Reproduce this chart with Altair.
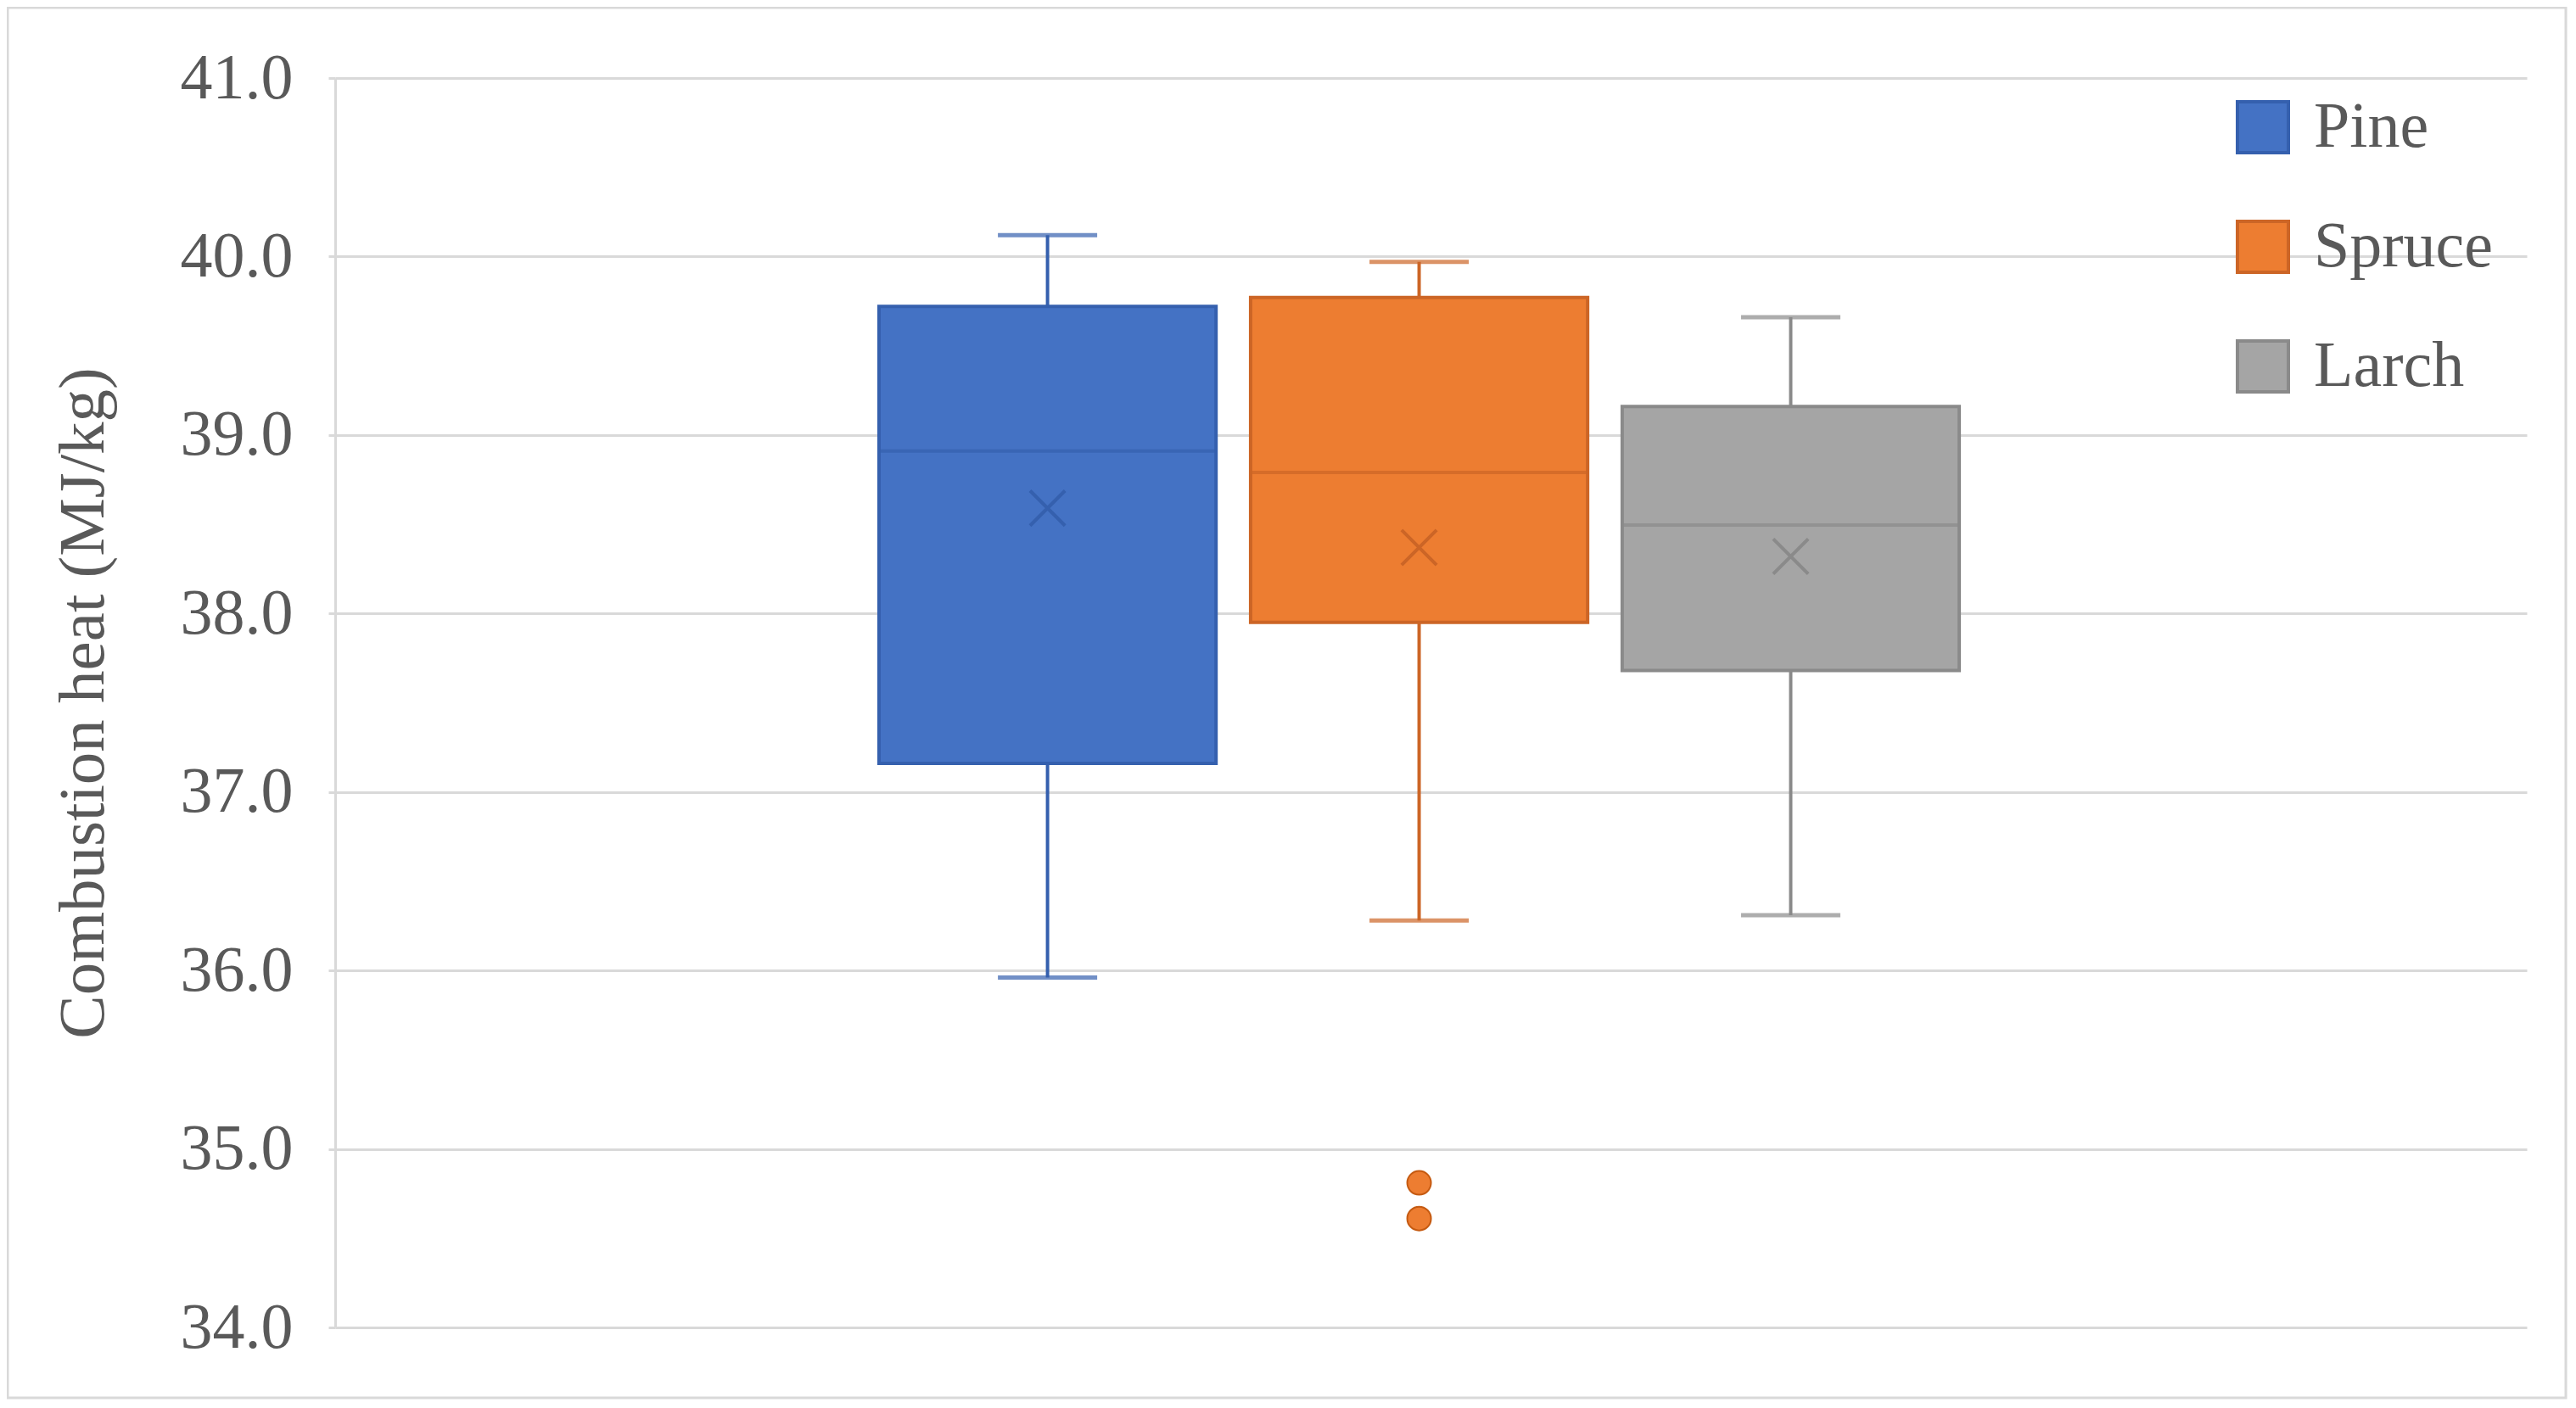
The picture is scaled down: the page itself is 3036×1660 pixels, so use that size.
import altair as alt
import pandas as pd

# ---- data ----
series = ["Pine", "Spruce", "Larch"]
mins = [35.96, 36.28, 36.31]
q1s = [37.16, 37.95, 37.68]
medians = [38.91, 38.79, 38.495]
q3s = [39.72, 39.77, 39.16]
maxs = [40.12, 39.97, 39.66]
means = [38.59, 38.37, 38.32]
outlier_series = ["Spruce", "Spruce"]
outlier_values = [34.81, 34.61]
y_ticks = [34, 35, 36, 37, 38, 39, 40, 41]

fill_colors = ["#4472C4", "#ED7D31", "#A5A5A5"]
edge_colors = ["#3560AE", "#CC6526", "#8A8A8A"]

W, H = 2583, 1473
FONT = "Liberation Serif"
TXT = "#595959"
GRID = "#D9D9D9"

summary = pd.DataFrame({
    "group": ["all"] * len(series),
    "series": series,
    "min": mins,
    "q1": q1s,
    "median": medians,
    "q3": q3s,
    "max": maxs,
    "mean": means,
})
outliers = pd.DataFrame({
    "group": ["all"] * len(outlier_series),
    "series": outlier_series,
    "value": outlier_values,
})


def edge_expr(ref):
    parts = " : ".join(
        f"{ref} === '{s}' ? '{c}'" for s, c in zip(series, edge_colors)
    )
    return f"{parts} : '#888888'"


x_enc = alt.X("group:N", axis=None,
              scale=alt.Scale(paddingOuter=0.483, paddingInner=0, align=0.489))
xo_enc = alt.XOffset("series:N",
                     scale=alt.Scale(domain=series, paddingInner=0.093, paddingOuter=0.0465))
y_scale = alt.Scale(domain=[34, 41], nice=False, zero=False)
y_axis = alt.Axis(
    values=y_ticks, format=".1f", title="Combustion heat (MJ/kg)",
    labelFont=FONT, labelFontSize=76, labelColor=TXT, labelPadding=42,
    titleFont=FONT, titleFontSize=77, titleColor=TXT, titleFontWeight="normal",
    titleAngle=-90, titleAlign="center", titleBaseline="middle",
    titleX=-297, titleY=H / 2,
    grid=True, gridColor=GRID, gridWidth=3,
    domain=True, domainColor=GRID, domainWidth=3,
    ticks=True, tickColor=GRID, tickWidth=3, tickSize=8,
)


def yq(field):
    return alt.Y(f"{field}:Q", scale=y_scale, axis=y_axis)


edge_color = alt.Color("edge:N", scale=None)

base = alt.Chart(summary).transform_calculate(edge=edge_expr("datum.series"))

whiskers = base.mark_rule(strokeWidth=4).encode(
    x=x_enc, xOffset=xo_enc, y=yq("min"), y2="max", color=edge_color
)
cap_low = base.mark_tick(size=117, thickness=5).encode(
    x=x_enc, xOffset=xo_enc, y=yq("min"), color=edge_color
)
cap_high = base.mark_tick(size=117, thickness=5).encode(
    x=x_enc, xOffset=xo_enc, y=yq("max"), color=edge_color
)
legend = alt.Legend(
    title=None, orient="none", legendX=2234, legendY=20,
    symbolType="square", symbolSize=3600, symbolStrokeWidth=4,
    symbolStrokeColor={"expr": edge_expr("datum.value")},
    labelFont=FONT, labelFontSize=76, labelColor=TXT, labelLimit=800,
    labelOffset=22, rowPadding=65, padding=0,
)
boxes = base.mark_bar(strokeWidth=4).encode(
    x=x_enc, xOffset=xo_enc, y=yq("q1"), y2="q3",
    fill=alt.Fill("series:N", scale=alt.Scale(domain=series, range=fill_colors), legend=legend),
    stroke=alt.Stroke("edge:N", scale=None),
)
median_lines = base.mark_tick(size=397, thickness=4).encode(
    x=x_enc, xOffset=xo_enc, y=yq("median"), color=edge_color
)
mean_marks = base.mark_point(shape="M-1,-1L1,1M-1,1L1,-1", size=1700, strokeWidth=4,
                             filled=False, opacity=1).encode(
    x=x_enc, xOffset=xo_enc, y=yq("mean"), color=edge_color
)
outlier_marks = alt.Chart(outliers).mark_point(shape="circle", size=784, filled=True,
                                               fill="#ED7D31", stroke="#C55A11",
                                               strokeWidth=2, opacity=1).encode(
    x=x_enc, xOffset=xo_enc, y=yq("value")
)
frame = alt.Chart(pd.DataFrame({"k": [0]})).mark_rect(
    filled=False, stroke=GRID, strokeWidth=3
).encode(
    x=alt.value(-386), x2=alt.value(W + 46), y=alt.value(-83), y2=alt.value(H + 83)
)

chart = alt.layer(
    whiskers, cap_low, cap_high, boxes, median_lines, mean_marks, outlier_marks, frame
).properties(
    width=W, height=H,
    autosize=alt.AutoSizeParams(type="none"),
    padding={"left": 387, "top": 84, "right": 48, "bottom": 85},
    background="white",
).configure_view(stroke=None)

chart.save("out.html", embed_options={"renderer": "svg", "actions": False})
